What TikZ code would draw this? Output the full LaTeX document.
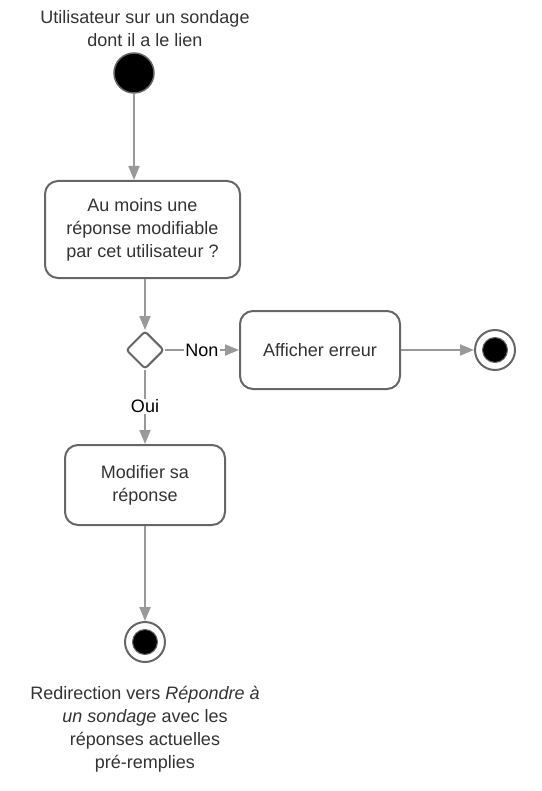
\documentclass[tikz,border=0pt]{standalone}
\usepackage{fontspec}
\setmainfont{Liberation Sans}
\usetikzlibrary{arrows.meta,positioning,shapes.geometric}

\definecolor{linegray}{HTML}{999999}
\definecolor{boxgray}{HTML}{666666}
\definecolor{txtgray}{HTML}{333333}

\tikzset{
  action/.style={draw=boxgray,line width=2pt,rounded corners=13pt,align=center,
    text=txtgray,font=\fontsize{18}{23}\selectfont,inner sep=0pt},
  flow/.style={draw=linegray,line width=2pt,-{Triangle[length=14pt,width=11pt]}},
  initial/.style={circle,fill=black,draw=boxgray,line width=1.5pt,minimum size=40pt,inner sep=0pt},
  final/.style={circle,draw=boxgray,line width=2pt,minimum size=40pt,inner sep=0pt,
    path picture={\fill[black,draw=boxgray,line width=1pt] (path picture bounding box.center) circle (12.5pt);}},
  choice/.style={diamond,draw=boxgray,line width=2pt,rounded corners=3pt,minimum size=38pt,inner sep=0pt},
  caption/.style={align=center,text=txtgray,font=\fontsize{18}{23}\selectfont},
  guard/.style={fill=white,text=black,font=\fontsize{18}{23}\selectfont,inner sep=1pt}
}

\begin{document}
\begin{tikzpicture}[x=1pt,y=-1pt]
  \useasboundingbox (0,0) rectangle (541,791);
  \node[caption](start text) at (145,29) {Utilisateur sur un sondage\\dont il a le lien};
  \node[initial](start) at (134,73) {};
  \node[action,minimum width=195pt,minimum height=97pt](check) at (142.5,229.5)
    {Au moins une\\réponse modifiable\\par cet utilisateur ?};
  \node[choice](choice) at (145,350) {};
  \node[action,minimum width=160pt,minimum height=78pt](error) at (320,350) {Afficher erreur};
  \node[final](end error) at (495,350) {};
  \node[action,minimum width=160pt,minimum height=80pt](edit) at (145,485) {Modifier sa\\réponse};
  \node[final](end) at (145,642) {};
  \node[caption,below=20pt of end](end text)
    {Redirection vers \textit{Répondre à}\\\textit{un sondage} avec les\\réponses actuelles\\pré-remplies};

  \path[flow] (start) -- (start|-check.north);
  \path[flow] (check.south-|choice) -- (choice);
  \path[flow] (choice) -- node[guard,pos=0.5]{Non} (error);
  \path[flow] (error) -- (end error);
  \path[flow] (choice) -- node[guard,pos=0.49]{Oui} (edit);
  \path[flow] (edit) -- (end);
\end{tikzpicture}
\end{document}
